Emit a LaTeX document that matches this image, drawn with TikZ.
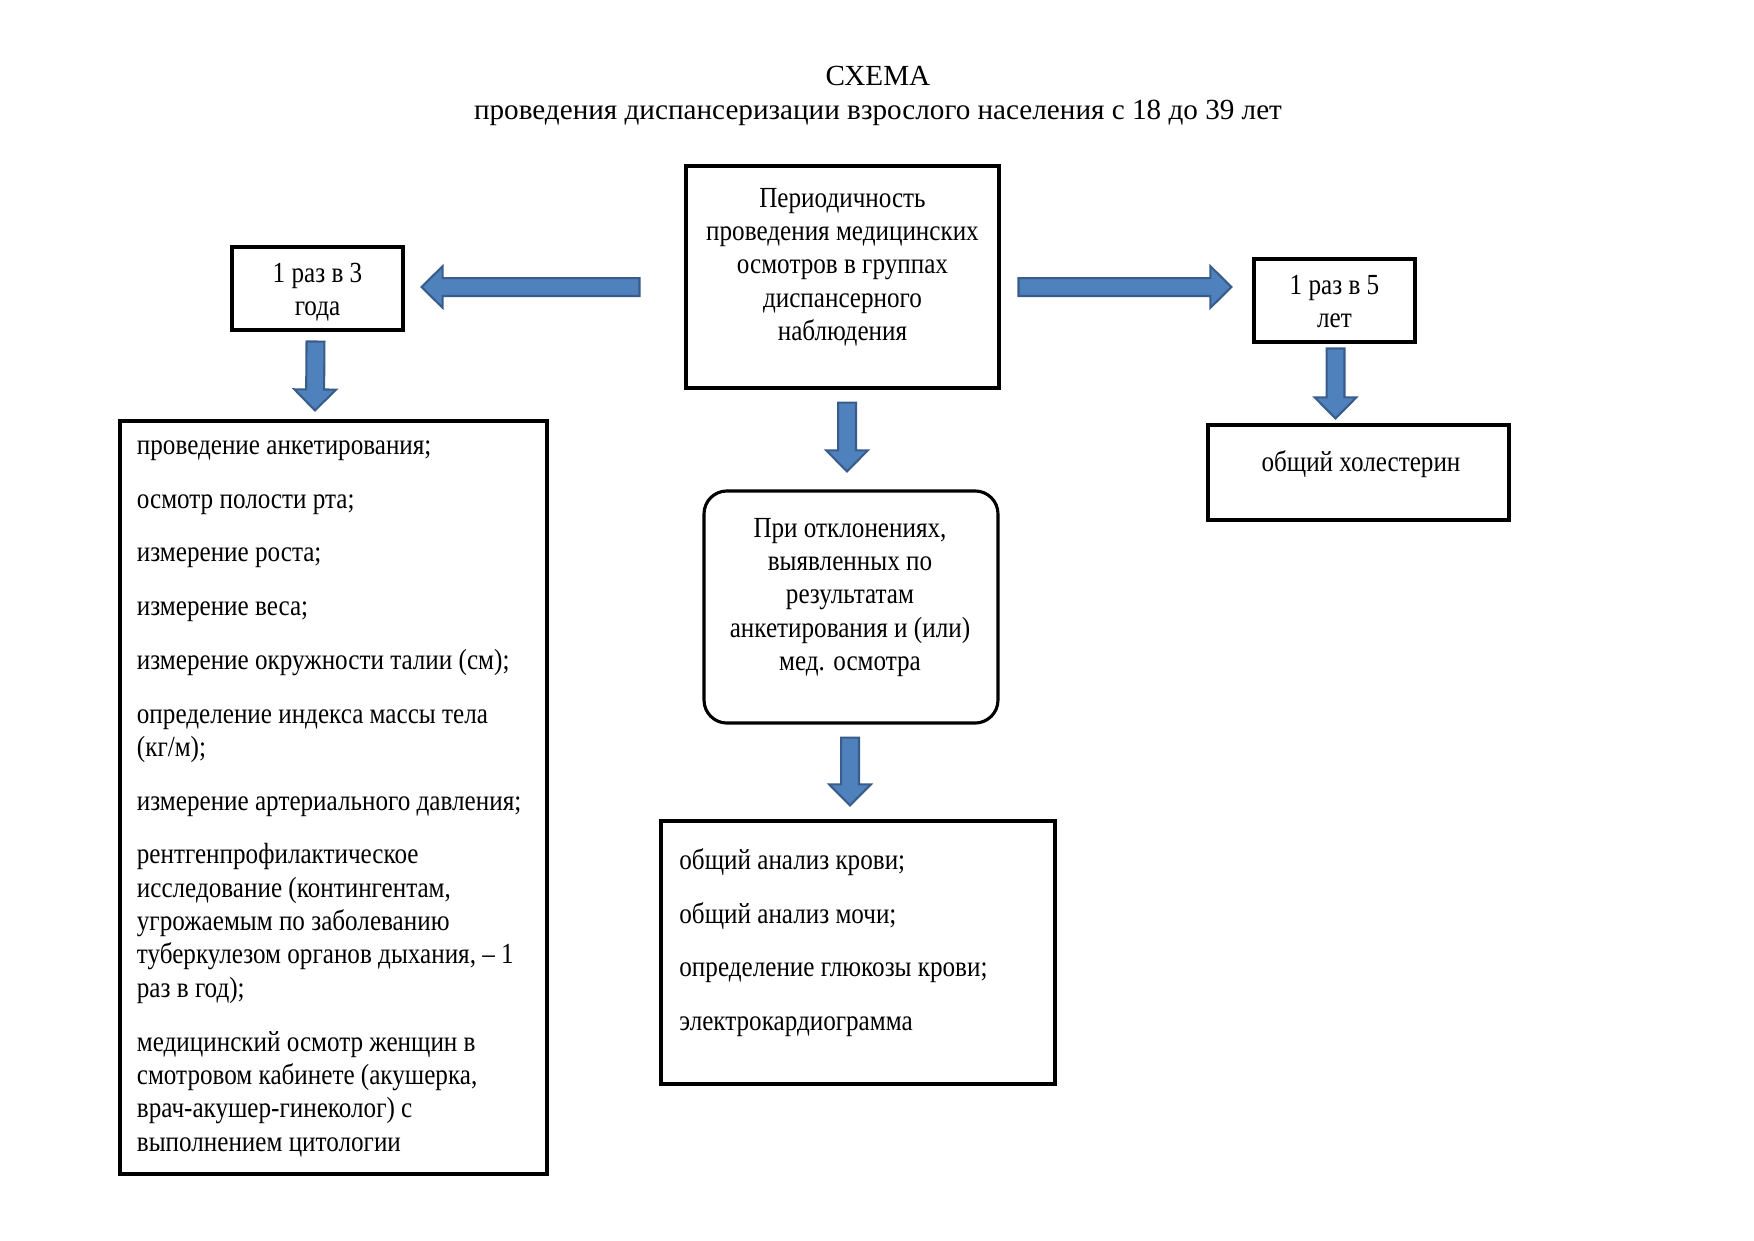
\documentclass[tikz,border=0pt]{standalone}
\usepackage{fontspec}
\setmainfont{Liberation Serif}
\newfontfamily\boxfont{Liberation Serif}[FakeStretch=0.862]
\usetikzlibrary{calc}
\definecolor{afill}{HTML}{4F81BD}
\definecolor{aline}{HTML}{385D8A}
\tikzset{
  box/.style={draw=black, line width=1.5pt, inner sep=0pt, rectangle},
  rbox/.style={box, rounded corners=11pt},
  txt/.style={inner sep=0pt, font=\boxfont\fontsize{14}{16}\selectfont},
  ctxt/.style={txt, anchor=north, align=center},
  ltxt/.style={txt, anchor=north west, align=left},
  barrowstyle/.style={fill=afill, draw=aline, line width=1pt, line join=miter},
}
\newcommand\fl{\rule{0pt}{12pt}}
\newcommand\blockarrow[2]{%
  \coordinate (bab) at ($(#2)!10.1pt!(#1)$);
  \filldraw[barrowstyle] ($(#1)!4.3pt!90:(#2)$) -- ($(bab)!4.3pt!90:(#2)$) -- ($(bab)!10pt!90:(#2)$) -- (#2) -- ($(bab)!10pt!-90:(#2)$) -- ($(bab)!4.3pt!-90:(#2)$) -- ($(#1)!4.3pt!-90:(#2)$) -- cycle;
}
\begin{document}
\begin{tikzpicture}[x=0.48pt, y=-0.48pt]
\useasboundingbox[fill=white] (0,0) rectangle (1754,1241);

% title
\node[inner sep=0pt, anchor=north, align=center, font=\fontsize{14}{16.3}\selectfont] (title) at (878,59.9) {\fl СХЕМА\\проведения диспансеризации взрослого населения с 18 до 39 лет};

% boxes
\node[box, minimum width=150.2pt, minimum height=106.6pt] (C) at (842.5,277) {};
\node[box, minimum width=82.1pt, minimum height=39.8pt] (B3) at (317.5,288.5) {};
\node[box, minimum width=77.3pt, minimum height=39.8pt] (B5) at (1334.5,300.5) {};
\node[box, minimum width=205pt, minimum height=361.4pt] (L) at (333.5,797.5) {};
\node[rbox, minimum width=141.1pt, minimum height=111.4pt] (R) at (851,607) {};
\node[box, minimum width=189.1pt, minimum height=126.2pt] (M) at (858,952.5) {};
\node[box, minimum width=144.5pt, minimum height=45.6pt] (H) at (1358.5,472.5) {};

% texts
\node[ctxt] (Ct) at (842.5,181.9) {\fl Периодичность\\проведения медицинских\\осмотров в группах\\диспансерного\\наблюдения};
\node[ctxt] (B3t) at (317.5,256.9) {\fl 1 раз в 3\\года};
\node[ctxt] (B5t) at (1334.5,268.9) {\fl 1 раз в 5\\лет};
\node[ctxt] (Ht) at (1361,445.9) {\fl общий холестерин};
\node[ctxt] (Rt) at (850,511.9) {\fl При отклонениях,\\выявленных по\\результатам\\анкетирования и (или)\\мед. осмотра};
\node[ltxt] (Lt) at (136.5,428.9) {\fl проведение анкетирования;\\[9.8pt]
осмотр полости рта;\\[9.8pt]
измерение роста;\\[9.8pt]
измерение веса;\\[9.8pt]
измерение окружности талии (см);\\[9.8pt]
определение индекса массы тела\\
(кг/м);\\[9.8pt]
измерение артериального давления;\\[9.8pt]
рентгенпрофилактическое\\
исследование (контингентам,\\
угрожаемым по заболеванию\\
туберкулезом органов дыхания, – 1\\
раз в год);\\[9.8pt]
медицинский осмотр женщин в\\
смотровом кабинете (акушерка,\\
врач-акушер-гинеколог) с\\
выполнением цитологии};
\node[ltxt] (Mt) at (679,843.9) {\fl общий анализ крови;\\[9.8pt]
общий анализ мочи;\\[9.8pt]
определение глюкозы крови;\\[9.8pt]
электрокардиограмма};

% arrow end points
\coordinate (a1s) at ($(C.west)+(-45,10)$);
\coordinate (a1e) at ($(B3.east)+(17,-1.5)$);
\coordinate (a2s) at ($(C.east)+(18,10)$);
\coordinate (a2e) at ($(B5.west)+(-21,-13.5)$);
\coordinate (a3s) at ($(B3.south)+(-2,10)$);
\coordinate (a3e) at ($(L.north)+(-18.5,-9)$);
\coordinate (a4s) at ($(C.south)+(4.5,13)$);
\coordinate (a4e) at ($(R.north)+(-4,-18)$);
\coordinate (a5s) at ($(R.south)+(-1,13)$);
\coordinate (a5e) at ($(M.north)+(-8,-14)$);
\coordinate (a6s) at ($(B5.south)+(1,5)$);
\coordinate (a6e) at ($(H.north)+(-23,-5)$);

\blockarrow{a1s}{a1e}
\blockarrow{a2s}{a2e}
\blockarrow{a3s}{a3e}
\blockarrow{a4s}{a4e}
\blockarrow{a5s}{a5e}
\blockarrow{a6s}{a6e}
\end{tikzpicture}
\end{document}
